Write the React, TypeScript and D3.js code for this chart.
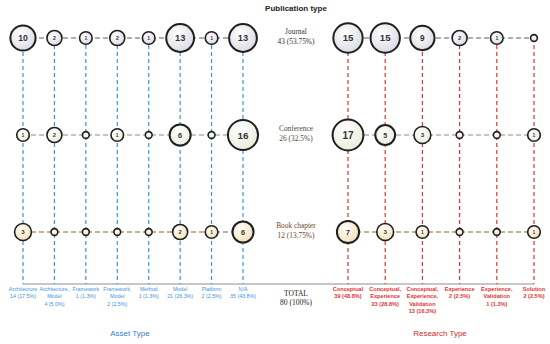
import React from "react";
import * as d3 from "d3";

const assetCategories = ["Architecture", "Architecture, Model", "Framework", "Framework, Model", "Method", "Model", "Platform", "N/A"];
const assetLabels = [
  ["Architecture", "14 (17.5%)"],
  ["Architecture,", "Model", "4 (5.0%)"],
  ["Framework", "1 (1.3%)"],
  ["Framework,", "Model", "2 (2.5%)"],
  ["Method", "1 (1.3%)"],
  ["Model", "21 (26.3%)"],
  ["Platform", "2 (2.5%)"],
  ["N/A", "35 (43.8%)"],
];
const researchCategories = ["Conceptual", "Conceptual, Experience", "Conceptual, Experience, Validation", "Experience", "Experience, Validation", "Solution"];
const researchLabels = [
  ["Conceptual", "39 (48.8%)"],
  ["Conceptual,", "Experience", "23 (28.8%)"],
  ["Conceptual,", "Experience,", "Validation", "13 (16.3%)"],
  ["Experience", "2 (2.5%)"],
  ["Experience,", "Validation", "1 (1.3%)"],
  ["Solution", "2 (2.5%)"],
];
const publicationTypes = ["Journal", "Conference", "Book chapter"];
const publicationTotals = ["43  (53.75%)", "26 (32.5%)", "12  (13.75%)"];
const totalLabel = ["TOTAL", "80 (100%)"];

const journalAsset = [10, 2, 1, 2, 1, 13, 1, 13];
const conferenceAsset = [1, 2, 0, 1, 0, 6, 0, 16];
const bookAsset = [3, 0, 0, 0, 0, 2, 1, 6];
const journalResearch = [15, 15, 9, 2, 1, 0];
const conferenceResearch = [17, 5, 3, 0, 0, 1];
const bookResearch = [7, 3, 1, 0, 0, 1];

const assetRows = [journalAsset, conferenceAsset, bookAsset];
const researchRows = [journalResearch, conferenceResearch, bookResearch];

const W = 550;
const H = 344;

const rowStyles = [
  { fill: "#d9d9e3", line: "#5e5e5e", text: "#333", label: "#333" },
  { fill: "#e9ecd9", line: "#8a8a8a", text: "#333", label: "#4b4f42" },
  { fill: "#f1dfb5", line: "#8a6236", text: "#4a3010", label: "#6b4a1c" },
];

export default function App() {
  const xAsset = d3.scalePoint<string>().domain(assetCategories).range([23, 243]);
  const xResearch = d3.scalePoint<string>().domain(researchCategories).range([348, 534]);
  const y = d3.scalePoint<string>().domain(publicationTypes).range([38, 232]);
  const rS = d3.scaleSqrt().domain([0, 17]).range([0, 12]);
  const r = (v: number) => 3.4 + rS(v);
  const baseY = 284;
  const midX = 296;

  const groups = [
    { cats: assetCategories, x: xAsset, rows: assetRows, color: "#3d93dd", labels: assetLabels, bold: false, fs: 5.3 },
    { cats: researchCategories, x: xResearch, rows: researchRows, color: "#e23434", labels: researchLabels, bold: true, fs: 5.6 },
  ];

  return (
    <svg width={W} height={H} style={{ position: "absolute", left: 0, top: 0, background: "#fff" }}>
      <defs>
        {rowStyles.map((s, i) => (
          <radialGradient key={i} id={`g${i}`} cx="40%" cy="35%" r="70%">
            <stop offset="0%" stopColor="#ffffff" />
            <stop offset="100%" stopColor={s.fill} />
          </radialGradient>
        ))}
      </defs>
      <text x={midX} y={11} textAnchor="middle" fontFamily="Liberation Sans, Arial, sans-serif" fontSize={8} fontWeight={600} fill="#222">
        Publication type
      </text>

      <line x1={xAsset(assetCategories[0])} x2={xResearch(researchCategories[researchCategories.length - 1])} y1={baseY} y2={baseY} stroke="#b5b5b5" strokeWidth={1.6} />

      {groups.map((g, gi) => (
        <g key={gi}>
          {g.cats.map((c) => (
            <line key={c} x1={g.x(c)} x2={g.x(c)} y1={y(publicationTypes[0])} y2={baseY} stroke={g.color} strokeWidth={1.2} strokeDasharray="4,3" />
          ))}
          {g.rows.map((row, ri) => (
            <line key={ri} x1={g.x(g.cats[0])} x2={g.x(g.cats[g.cats.length - 1])} y1={y(publicationTypes[ri])} y2={y(publicationTypes[ri])}
              stroke={rowStyles[ri].line} strokeWidth={1.1} strokeDasharray="5,3" />
          ))}
          {g.rows.map((row, ri) =>
            row.map((v, ci) => {
              const cx = g.x(g.cats[ci]) as number;
              const cy = y(publicationTypes[ri]) as number;
              const rr = r(v);
              return (
                <g key={`${ri}-${ci}`}>
                  <circle cx={cx} cy={cy} r={rr} fill={`url(#g${ri})`} stroke="#1f1f1f" strokeWidth={v >= 5 ? 2 : 1.6} />
                  {v > 0 && (
                    <text x={cx} y={cy} dy="0.36em" textAnchor="middle" fontFamily="Liberation Sans, Arial, sans-serif"
                      fontSize={0.55 * rr + 1.6} fontWeight={600} fill={rowStyles[ri].text}>
                      {v}
                    </text>
                  )}
                </g>
              );
            })
          )}
          {g.labels.map((lines, ci) => (
            <text key={ci} x={g.x(g.cats[ci])} y={291} textAnchor="middle" fontFamily="Liberation Sans, Arial, sans-serif"
              fontSize={g.fs} fontWeight={g.bold ? 700 : 400} fill={g.color}>
              {lines.map((l, li) => (
                <tspan key={li} x={g.x(g.cats[ci])} dy={li === 0 ? 0 : 7.4}>{l}</tspan>
              ))}
            </text>
          ))}
        </g>
      ))}

      {publicationTypes.map((p, i) => (
        <text key={p} x={midX} y={(y(p) as number) - 4} textAnchor="middle" fontFamily="Liberation Serif, serif" fontSize={7.4} fill={rowStyles[i].label}>
          <tspan x={midX}>{p}</tspan>
          <tspan x={midX} dy={10}>{publicationTotals[i]}</tspan>
        </text>
      ))}

      <text x={midX} y={296} textAnchor="middle" fontFamily="Liberation Serif, serif" fontSize={7.5} fill="#222">
        <tspan x={midX}>{totalLabel[0]}</tspan>
        <tspan x={midX} dy={9}>{totalLabel[1]}</tspan>
      </text>

      <text x={130} y={336} textAnchor="middle" fontFamily="Liberation Sans, Arial, sans-serif" fontSize={8} fill="#2f7fcf">Asset Type</text>
      <text x={440} y={336} textAnchor="middle" fontFamily="Liberation Sans, Arial, sans-serif" fontSize={8} fill="#d42a2a">Research Type</text>
    </svg>
  );
}
